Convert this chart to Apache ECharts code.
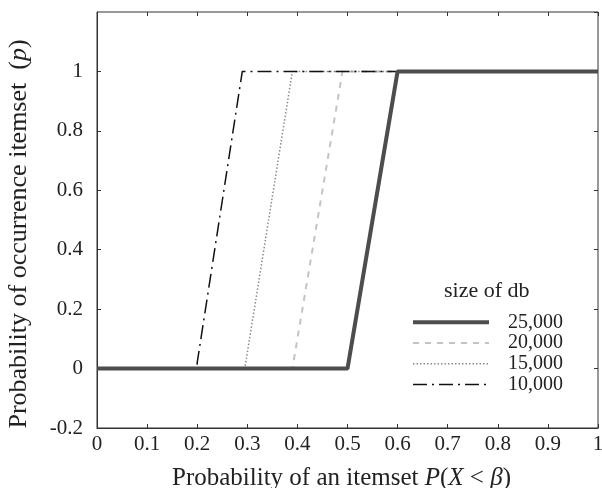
<!DOCTYPE html>
<html>
<head>
<meta charset="UTF-8">
<script src="https://cdn.jsdelivr.net/npm/echarts@6/dist/echarts.min.js"></script>
<style>
  html, body { margin: 0; padding: 0; background: #fff; }
  #chart { width: 602px; height: 488px; }
</style>
</head>
<body>
<div id="chart"></div>
<script>
// data
const sizes = ['25,000', '20,000', '15,000', '10,000'];
const db25000 = [[0, 0], [0.5, 0], [0.6, 1], [1, 1]];
const db20000 = [[0, 0], [0.39, 0], [0.49, 1], [1, 1]];
const db15000 = [[0, 0], [0.295, 0], [0.39, 1], [1, 1]];
const db10000 = [[0, 0], [0.2, 0], [0.2, 0.02], [0.29, 1], [1, 1]];
const xTicks = [0, 0.1, 0.2, 0.3, 0.4, 0.5, 0.6, 0.7, 0.8, 0.9, 1];

const serif = 'Liberation Serif';
const frame = '#333';
const ink = '#222';

// line look per series: colour, width, dash
const looks = [
  ['#4d4d4d', 4, 'solid'],
  ['#c4c4c4', 2, [6, 6]],
  ['#8a8a8a', 1.5, [1.5, 2]],
  ['#111', 1.5, [14, 5, 2, 5]]
];

const chart = echarts.init(document.getElementById('chart'));

function line(i, data, z) {
  const [color, width, type] = looks[i];
  return {
    name: sizes[i], type: 'line', data, symbol: 'none', z,
    lineStyle: { color, width, type },
    itemStyle: { color },
    xAxisIndex: 0, yAxisIndex: 0
  };
}

const tickAxis = { show: true, inside: true, length: 4, lineStyle: { color: frame } };

chart.setOption({
  animation: false,
  textStyle: { fontFamily: serif },
  grid: { left: 97, right: 4, top: 12, bottom: 60, show: true, borderColor: frame, borderWidth: 1,
    outerBoundsMode: 'none', containLabel: false },
  title: {
    text: 'size of db', left: 439, top: 275,
    textStyle: { fontFamily: serif, fontSize: 22, fontWeight: 'normal', color: ink }
  },
  legend: {
    data: sizes.map((s, i) => ({ name: s, lineStyle: { width: looks[i][1], type: looks[i][2], color: looks[i][0] } })),
    orient: 'vertical', left: 406, top: 307,
    itemWidth: 76, itemHeight: 12, itemGap: 0,
    itemStyle: { opacity: 0 },
    textStyle: { fontFamily: serif, fontSize: 20, lineHeight: 20.7, color: ink, padding: [0, 0, 0, 14] }
  },
  xAxis: [{
    type: 'value', min: 0, max: 1, interval: 0.1,
    axisLine: { show: true, onZero: false, lineStyle: { color: frame } },
    axisTick: tickAxis, splitLine: { show: false },
    axisLabel: { fontFamily: serif, fontSize: 21, color: ink, margin: 6,
      formatter: v => String(xTicks.find(t => Math.abs(t - v) < 1e-9) ?? v) },
    name: '{a|Probability of an itemset }{i|P}{a|(}{i|X}{a| < }{i|β}{a|)}',
    nameLocation: 'middle', nameGap: 38,
    nameTextStyle: { padding: [0, 12, 0, 0], rich: {
      a: { fontFamily: serif, fontSize: 25, color: ink },
      i: { fontFamily: serif, fontSize: 25, color: ink, fontStyle: 'italic' }
    } }
  }, {
    type: 'value', position: 'top', min: 0, max: 1, interval: 0.1,
    axisLine: { show: false, onZero: false }, axisTick: tickAxis, axisLabel: { show: false }, splitLine: { show: false }
  }],
  yAxis: [{
    type: 'value', min: -0.2, max: 1.2, interval: 0.2,
    axisLine: { show: true, onZero: false, lineStyle: { color: frame } },
    axisTick: tickAxis, splitLine: { show: false },
    axisLabel: { fontFamily: serif, fontSize: 21, color: ink, margin: 14, showMaxLabel: false,
      formatter: v => String(Math.round(v * 10) / 10) },
    name: '{a|Probability of occurrence itemset  (}{i|p}{a|)}',
    nameLocation: 'middle', nameGap: 65,
    nameTextStyle: { padding: [0, 28, 0, 0], rich: {
      a: { fontFamily: serif, fontSize: 26, color: ink },
      i: { fontFamily: serif, fontSize: 26, color: ink, fontStyle: 'italic' }
    } }
  }, {
    type: 'value', position: 'right', min: -0.2, max: 1.2, interval: 0.2,
    axisLine: { show: false, onZero: false }, axisTick: tickAxis, axisLabel: { show: false }, splitLine: { show: false }
  }],
  series: [
    line(0, db25000, 4),
    line(1, db20000, 1),
    line(2, db15000, 2),
    line(3, db10000, 3)
  ]
});
</script>
</body>
</html>
